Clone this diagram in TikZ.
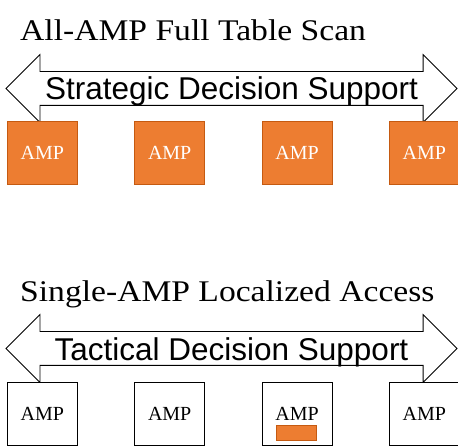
\documentclass[tikz,border=0pt]{standalone}
\usepackage{graphicx}
\usepackage{fontspec}
\setmainfont{Liberation Serif}
\newfontfamily\arrowfont{Liberation Sans}
\usetikzlibrary{positioning,shapes.arrows}
\definecolor{amporange}{HTML}{ED7D31}
\definecolor{ampborder}{HTML}{C55A11}
\newcommand{\widetitle}[1]{\scalebox{1.12}[1]{#1}}
\tikzset{
    ampnode/.style={rectangle, draw=black, fill=white, line width=0.8pt, minimum width=70pt, minimum height=63pt, inner sep=0pt, font=\fontsize{20}{20}\selectfont},
    busyamp/.style={ampnode, draw=ampborder, fill=amporange, text=white},
    bigarrow/.style={double arrow, draw=black, fill=white, line width=0.8pt, double arrow head extend=17pt, double arrow tip angle=90, minimum height=451pt, inner sep=0pt, text height=28pt, text depth=5pt, font=\arrowfont\fontsize{31.5}{31}\selectfont},
    mytitle/.style={anchor=base west, inner sep=0pt, font=\fontsize{30}{30}\selectfont}
}
\begin{document}
\begin{tikzpicture}[x=1pt, y=-1pt, node distance=56.5pt]
\useasboundingbox (0,0) rectangle (458,446);

% all-AMP scan
\node[mytitle] (scantitle) at (20,41) {\widetitle{All-AMP Full Table Scan}};
\node[bigarrow] (strategic) at (231.5,88.5) {Strategic Decision Support};
\node[busyamp, anchor=north west] (amp1) at (7,121) {AMP};
\node[busyamp, right=of amp1] (amp2) {AMP};
\node[busyamp, right=of amp2] (amp3) {AMP};
\node[busyamp, right=of amp3] (amp4) {AMP};

% single-AMP access
\node[mytitle] (accesstitle) at (20,302) {\widetitle{Single-AMP Localized Access}};
\node[bigarrow] (tactical) at (231.5,348.5) {Tactical Decision Support};
\node[ampnode, anchor=north west] (samp1) at (7,382) {AMP};
\node[ampnode, right=of samp1] (samp2) {AMP};
\node[ampnode, right=of samp2] (samp3) {AMP};
\node[ampnode, right=of samp3] (samp4) {AMP};
\node[rectangle, draw=ampborder, fill=amporange, line width=0.8pt, minimum width=40pt, minimum height=15pt, inner sep=0pt] (row) at (296,432.5) {};

\end{tikzpicture}
\end{document}
